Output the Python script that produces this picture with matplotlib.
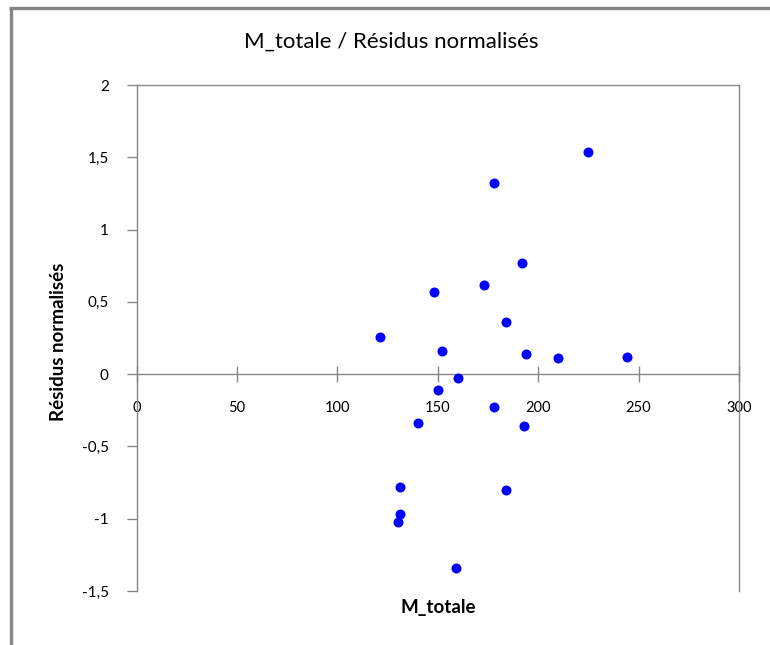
import matplotlib
matplotlib.use("Agg")
import matplotlib.pyplot as plt
from matplotlib.lines import Line2D
from matplotlib.ticker import FuncFormatter

plt.rcParams['font.family'] = ['Lato', 'DejaVu Sans']

# Data
m_totale = [121, 148, 152, 150, 160, 173, 178, 178, 184, 192, 194, 193, 210, 225, 244,
            140, 131, 131, 130, 184, 159]
residus = [0.26, 0.57, 0.16, -0.11, -0.03, 0.62, 1.32, -0.23, 0.36, 0.77, 0.14, -0.36, 0.11,
           1.54, 0.12, -0.34, -0.78, -0.97, -1.02, -0.80, -1.34]

x_ticks = [0, 50, 100, 150, 200, 250, 300]
y_ticks = [-1.5, -1, -0.5, 0, 0.5, 1, 1.5, 2]

title = "M_totale / Résidus normalisés"
xlabel = "M_totale"
ylabel = "Résidus normalisés"

grey = "#868686"

fig = plt.figure(figsize=(7.7, 6.45), dpi=100)
ax = fig.add_axes([0.1773, 0.0837, 0.7825, 0.7845])

ax.scatter(m_totale, residus, s=52, color="#0000FF", zorder=3, linewidths=0)

ax.set_xlim(0, 300)
ax.set_ylim(-1.5, 2)

# spines: x axis crosses at y=0
ax.spines['bottom'].set_position(('data', 0))
for s in ax.spines.values():
    s.set_color(grey)
    s.set_linewidth(1.0)

ax.set_xticks(x_ticks)
ax.set_yticks(y_ticks)

def fmt(v, pos):
    if float(v).is_integer():
        return str(int(v))
    return ("%g" % v).replace(".", ",")

ax.xaxis.set_major_formatter(FuncFormatter(fmt))
ax.yaxis.set_major_formatter(FuncFormatter(fmt))

ax.tick_params(axis='x', direction='inout', length=11, width=1, color=grey,
               labelsize=10.5, pad=14, labelcolor='black')
ax.tick_params(axis='y', direction='out', length=7, width=1, color=grey,
               labelsize=11, pad=13, labelcolor='black')
for lbl in ax.get_yticklabels():
    lbl.set_horizontalalignment('right')

# Titles and labels
fig.text(391 / 770, 1 - 42 / 645, title, ha='center', va='center', fontsize=16)
fig.text(59 / 770, 1 - 342 / 645, ylabel, ha='center', va='center', rotation=90,
         fontsize=13.5, fontweight='bold')
fig.text(438 / 770, 1 - 607 / 645, xlabel, ha='center', va='center',
         fontsize=13.5, fontweight='bold')

# Outer chart-area border (only top and left visible)
fig.add_artist(Line2D([10.5 / 770, 10.5 / 770], [0, 1 - 7.5 / 645],
                      transform=fig.transFigure, color=grey, linewidth=2.4,
                      solid_capstyle='butt'))
fig.add_artist(Line2D([9.3 / 770, 1], [1 - 7.5 / 645, 1 - 7.5 / 645],
                      transform=fig.transFigure, color=grey, linewidth=2.4,
                      solid_capstyle='butt'))

fig.savefig("out.png", dpi=100, facecolor='white')
